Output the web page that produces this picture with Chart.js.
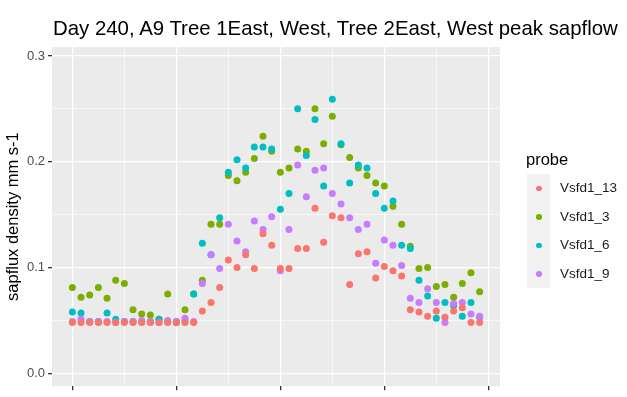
<!DOCTYPE html>
<html>
<head>
<meta charset="utf-8">
<script src="https://cdn.jsdelivr.net/npm/chart.js@4.4.1/dist/chart.umd.min.js"></script>
<style>
  html, body { margin: 0; padding: 0; background: #fff; }
  #wrap { position: relative; width: 627px; height: 397px; overflow: hidden; font-family: "Liberation Sans", Arial, sans-serif; }
  #c { position: absolute; left: 0; top: 0; }
  #title { position: absolute; left: 53px; top: 18px; font-size: 20.4px; line-height: 20px; color: #000; white-space: nowrap; }
  #legend { position: absolute; left: 526px; top: 150px; }
  #legend .ttl { font-size: 16.5px; line-height: 18px; color: #000; margin-bottom: 6px; }
  #legend .row { position: relative; height: 28.5px; }
  #legend .key { position: absolute; left: 1px; top: 0; width: 23px; height: 28.5px; background: #F2F2F2; }
  #legend .dot { position: absolute; left: 9px; top: 11.5px; width: 5.5px; height: 5.5px; border-radius: 50%; }
  #legend .lab { position: absolute; left: 34px; top: 6px; font-size: 13.5px; line-height: 16px; color: #1a1a1a; white-space: nowrap; }
</style>
</head>
<body>
<div id="wrap">
  <canvas id="c" width="627" height="397"></canvas>
  <div id="title"></div>
  <div id="legend"></div>
</div>
<script>
// Half-hourly sap flux density readings, day 240
const chartTitle = "Day 240, A9 Tree 1East, West, Tree 2East, West peak sapflow";
const yTitle = "sapflux density mm s-1";
const legendTitle = "probe";

const hours = [0, 0.5, 1, 1.5, 2, 2.5, 3, 3.5, 4, 4.5, 5, 5.5, 6, 6.5, 7, 7.5,
  8, 8.5, 9, 9.5, 10, 10.5, 11, 11.5, 12, 12.5, 13, 13.5, 14, 14.5, 15, 15.5,
  16, 16.5, 17, 17.5, 18, 18.5, 19, 19.5, 20, 20.5, 21, 21.5, 22, 22.5, 23, 23.5];

const probes = ["Vsfd1_13", "Vsfd1_3", "Vsfd1_6", "Vsfd1_9"];
const probeColors = ["#F8766D", "#7CAE00", "#00BFC4", "#C77CFF"];
// stacking weight: lower numbers are painted on top
const drawOrder = [0, 3, 2, 1];

const vsfd1_13 = [0.048, 0.048, 0.048, 0.048, 0.048, 0.048, 0.048, 0.048, 0.048, 0.048,
  0.048, 0.048, 0.048, 0.048, 0.048, 0.059, 0.067, 0.081, 0.107, 0.100,
  0.112, 0.099, 0.132, 0.121, 0.099, 0.099, 0.118, 0.118, 0.156, 0.124,
  0.149, 0.147, 0.084, 0.113, 0.115, 0.090, 0.101, 0.097, 0.092, 0.060,
  0.058, 0.054, 0.059, 0.053, 0.059, 0.062, 0.048, 0.048];
const vsfd1_3 = [0.081, 0.072, 0.074, 0.081, 0.071, 0.088, 0.085, 0.060, 0.056, 0.055,
  0.051, 0.075, 0.048, 0.060, 0.075, 0.088, 0.141, 0.141, 0.187, 0.182,
  0.190, 0.203, 0.224, 0.210, 0.190, 0.194, 0.212, 0.210, 0.250, 0.217,
  0.243, 0.216, 0.204, 0.194, 0.187, 0.180, 0.177, 0.158, 0.141, 0.120,
  0.099, 0.100, 0.082, 0.084, 0.072, 0.085, 0.095, 0.077];
const vsfd1_6 = [0.058, 0.057, 0.049, 0.049, 0.057, 0.051, 0.049, 0.049, 0.049, 0.049,
  0.051, 0.049, 0.049, 0.050, 0.075, 0.123, 0.112, 0.147, 0.190, 0.202,
  0.194, 0.214, 0.214, 0.212, 0.155, 0.170, 0.250, 0.206, 0.240, 0.177,
  0.259, 0.217, 0.180, 0.197, 0.194, 0.170, 0.156, 0.163, 0.121, 0.118,
  0.088, 0.073, 0.052, 0.067, 0.064, 0.054, 0.067, 0.053];
const vsfd1_9 = [0.049, 0.051, 0.049, 0.049, 0.049, 0.048, 0.049, 0.049, 0.050, 0.049,
  0.048, 0.050, 0.049, 0.052, 0.049, 0.085, 0.112, 0.099, 0.141, 0.125,
  0.115, 0.144, 0.136, 0.148, 0.097, 0.136, 0.197, 0.167, 0.192, 0.194,
  0.170, 0.160, 0.147, 0.136, 0.141, 0.104, 0.126, 0.121, 0.102, 0.071,
  0.067, 0.080, 0.067, 0.048, 0.066, 0.067, 0.056, 0.054];

const seriesValues = [vsfd1_13, vsfd1_3, vsfd1_6, vsfd1_9];

// axis breaks: majors carry tick marks (and labels on y), minors are thin grid lines only
const xMajor = [0, 6, 12, 18, 24];
const xMinor = [3, 9, 15, 21];
const yMajor = [0, 0.1, 0.2, 0.3];
const yMinor = [0.05, 0.15, 0.25];
const yTickLabels = ["0.0", "0.1", "0.2", "0.3"];

const FONT = "'Liberation Sans', Arial, sans-serif";

document.getElementById("title").textContent = chartTitle;

// ggplot-style legend
const leg = document.getElementById("legend");
const lt = document.createElement("div");
lt.className = "ttl";
lt.textContent = legendTitle;
leg.appendChild(lt);
probes.forEach((p, i) => {
  const row = document.createElement("div");
  row.className = "row";
  row.innerHTML = '<div class="key"><div class="dot" style="background:' + probeColors[i] +
    '"></div></div><div class="lab"></div>';
  row.querySelector(".lab").textContent = p;
  leg.appendChild(row);
});

const isMajor = (list, v) => list.some(m => Math.abs(m - v) < 1e-9);

const panelBg = {
  id: "panelBg",
  beforeDraw(chart) {
    const a = chart.chartArea, ctx = chart.ctx;
    ctx.save();
    ctx.fillStyle = "#EBEBEB";
    ctx.fillRect(a.left, a.top, a.right - a.left, a.bottom - a.top);
    ctx.restore();
  }
};

new Chart(document.getElementById("c"), {
  type: "scatter",
  data: {
    datasets: probes.map((p, i) => ({
      label: p,
      order: drawOrder[i],
      data: hours.map((h, k) => ({ x: h, y: seriesValues[i][k] })),
      backgroundColor: probeColors[i],
      pointBackgroundColor: probeColors[i],
      pointBorderWidth: 0,
      pointRadius: 3.5,
      pointHoverRadius: 3.5
    }))
  },
  options: {
    responsive: false,
    animation: false,
    devicePixelRatio: 1,
    layout: { padding: { top: 47, right: 127, left: 0, bottom: 0 } },
    plugins: { legend: { display: false }, tooltip: { enabled: false }, title: { display: false } },
    scales: {
      x: {
        type: "linear",
        min: -1.175,
        max: 24.675,
        afterBuildTicks(scale) {
          scale.ticks = xMajor.concat(xMinor).sort((a, b) => a - b).map(v => ({ value: v }));
        },
        afterFit(scale) { scale.height = 9; },
        border: { display: false },
        grid: {
          color: "#FFFFFF",
          lineWidth: ctx => isMajor(xMajor, ctx.tick.value) ? 1.3 : 0.6,
          tickColor: ctx => isMajor(xMajor, ctx.tick.value) ? "#333333" : "rgba(0,0,0,0)",
          tickLength: 4,
          drawTicks: true
        },
        ticks: { display: false }
      },
      y: {
        type: "linear",
        min: -0.0122,
        max: 0.3085,
        afterBuildTicks(scale) {
          scale.ticks = yMajor.concat(yMinor).sort((a, b) => a - b).map(v => ({ value: v }));
        },
        afterFit(scale) { scale.width = 52; },
        border: { display: false },
        grid: {
          color: "#FFFFFF",
          lineWidth: ctx => isMajor(yMajor, ctx.tick.value) ? 1.3 : 0.6,
          tickColor: ctx => isMajor(yMajor, ctx.tick.value) ? "#333333" : "rgba(0,0,0,0)",
          tickLength: 4,
          drawTicks: true
        },
        ticks: {
          autoSkip: false,
          padding: 3,
          color: "#4D4D4D",
          font: { family: FONT, size: 13 },
          callback: (v) => {
            const k = yMajor.findIndex(m => Math.abs(m - v) < 1e-9);
            return k >= 0 ? yTickLabels[k] : "";
          }
        },
        title: {
          display: true,
          text: yTitle,
          color: "#000000",
          font: { family: FONT, size: 16.5 },
          padding: { top: 4, bottom: 0 }
        }
      }
    }
  },
  plugins: [panelBg]
});
</script>
</body>
</html>
